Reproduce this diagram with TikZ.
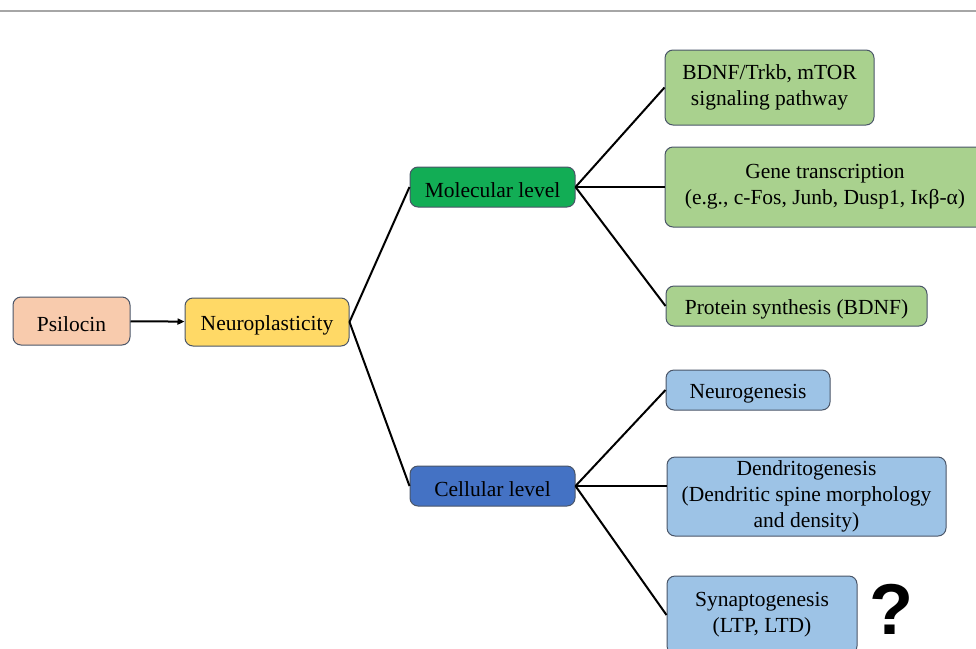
\documentclass[tikz,border=0pt]{standalone}
\usepackage{fontspec}
\setmainfont{Liberation Serif}
\newfontfamily\qfont{Liberation Sans}
\usetikzlibrary{arrows.meta, positioning}

\definecolor{salmon}{HTML}{F8CBAD}
\definecolor{gold}{HTML}{FFD966}
\definecolor{molgreen}{HTML}{12AD55}
\definecolor{celblue}{HTML}{4472C4}
\definecolor{lightgreen}{HTML}{A9D18E}
\definecolor{lightblue}{HTML}{9DC3E6}
\definecolor{edge}{HTML}{4A5568}

\begin{document}
\begin{tikzpicture}[x = 1pt, y = -1pt,
    box/.style = {draw = edge, line width = 1pt, rounded corners = 8pt, align = center,
                  inner sep = 0pt, font = \fontsize{21.5}{26}\selectfont,
                  execute at begin node = {\rule{0pt}{22pt}}},
    link/.style = {line width = 2pt}]
            \useasboundingbox (0,0) rectangle (976,648);
            \draw[gray!70, line width = 1.2pt] (0,11) -- (976,11);
            % left part
            \node (psilocin) at (71.5,321) [box, fill = salmon, minimum width = 117pt, minimum height = 48pt] {Psilocin};
            \node (neuro) at (267,322) [box, fill = gold, minimum width = 164pt, minimum height = 48pt] {Neuroplasticity};
            \node (molecular) at (492.5,187) [box, fill = molgreen, minimum width = 165pt, minimum height = 40pt] {Molecular level};
            \node (cellular) at (492.5,486) [box, fill = celblue, minimum width = 165pt, minimum height = 40pt] {Cellular level};
            % molecular branch
            \node (bdnf) at (769.5,87.5) [box, fill = lightgreen, minimum width = 209pt, minimum height = 75pt] {BDNF/Trkb, mTOR\\signaling pathway};
            \node (gene) at (825,187) [box, fill = lightgreen, minimum width = 320pt, minimum height = 80pt] {Gene transcription\\(e.g., c-Fos, Junb, Dusp1, Iκβ-α)};
            \node (protein) at (796.5,306) [box, fill = lightgreen, minimum width = 261pt, minimum height = 40pt] {Protein synthesis (BDNF)};
            % cellular branch
            \node (neurogen) at (748,390) [box, fill = lightblue, minimum width = 164pt, minimum height = 40pt] {Neurogenesis};
            \node (dendrito) at (806.5,496.5) [box, fill = lightblue, minimum width = 279pt, minimum height = 79pt] {Dendritogenesis\\(Dendritic spine morphology\\and density)};
            \node (synapto) at (762,615) [box, fill = lightblue, minimum width = 190pt, minimum height = 78pt] {Synaptogenesis\\(LTP, LTD)};
            \node (quest) at (891,609) [inner sep = 0pt, font = \qfont\bfseries\fontsize{72}{72}\selectfont] {?};
            % connectors
            \draw[link, -{Triangle[length = 7pt, width = 6pt]}] (psilocin) -- (neuro);
            \draw[link] (neuro.east) -- (molecular.west);
            \draw[link] (neuro.east) -- (cellular.west);
            \draw[link] (molecular.east) -- (bdnf.west);
            \draw[link] (molecular.east) -- (molecular.east -| gene.west);
            \draw[link] (molecular.east) -- (protein.west);
            \draw[link] (cellular.east) -- (neurogen.west);
            \draw[link] (cellular.east) -- (cellular.east -| dendrito.west);
            \draw[link] (cellular.east) -- (synapto.west);
        \end{tikzpicture}
\end{document}
